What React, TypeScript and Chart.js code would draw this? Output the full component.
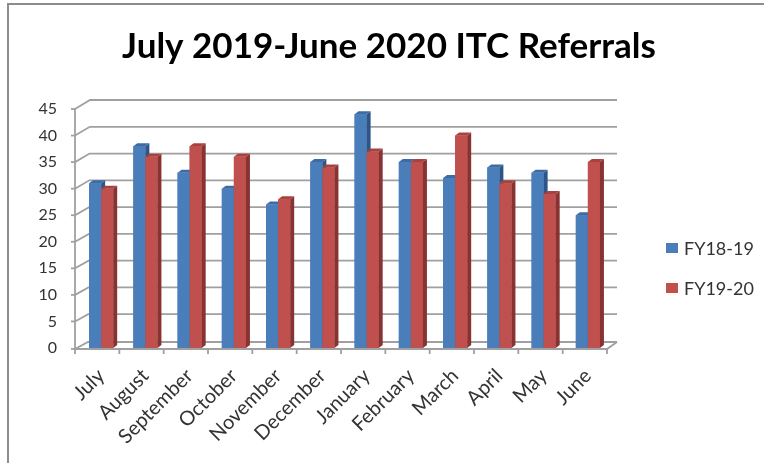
import React, { useEffect, useRef } from "react";
import { Chart, registerables } from "chart.js";

Chart.register(...registerables);

const categories = ["July", "August", "September", "October", "November", "December", "January", "February", "March", "April", "May", "June"];
const fy1819 = [31, 38, 33, 30, 27, 35, 44, 35, 32, 34, 33, 25];
const fy1920 = [30, 36, 38, 36, 28, 34, 37, 35, 40, 31, 29, 35];
const seriesNames = ["FY18-19", "FY19-20"];
const yTicks = [0, 5, 10, 15, 20, 25, 30, 35, 40, 45];
const titleText = "July 2019-June 2020 ITC Referrals";

const FONT = "Lato, 'Open Sans', sans-serif";
const faceColors = [
  { front: "#4A7EBB", top: "#3D6BA6", side: "#2E5588" },
  { front: "#C0504D", top: "#A8423F", side: "#883331" },
];
const GRID = "#A0A0A0";

const threeD = {
  id: "threeD",
  beforeDraw(chart: any) {
    const ctx = chart.ctx;
    ctx.save();
    ctx.fillStyle = "#ffffff";
    ctx.fillRect(0, 0, chart.width, chart.height);
    ctx.restore();
  },
  beforeDatasetsDraw(chart: any) {
    const { ctx, chartArea } = chart;
    const y = chart.scales.y;
    const fl = chartArea.left - 4;
    const fr = chartArea.right - 3;
    const br = chartArea.right + 7;
    const floorY = y.getPixelForValue(0) + 1;
    const maxV = yTicks[yTicks.length - 1];
    ctx.save();
    ctx.strokeStyle = GRID;
    ctx.lineWidth = 1.8;
    yTicks.forEach((v) => {
      const py = v === 0 ? floorY : y.getPixelForValue(v);
      const dx = 13 + (2 * v) / maxV;
      const dy = -(7 + (2 * v) / maxV);
      ctx.beginPath();
      ctx.moveTo(fl, py);
      ctx.lineTo(fl + dx, py + dy);
      ctx.lineTo(br, py + dy);
      ctx.stroke();
      ctx.beginPath();
      ctx.moveTo(fl - 4, py);
      ctx.lineTo(fl, py);
      ctx.stroke();
    });
    ctx.beginPath();
    ctx.moveTo(fl, y.getPixelForValue(maxV));
    ctx.lineTo(fl, floorY);
    ctx.stroke();
    ctx.beginPath();
    ctx.moveTo(fl, floorY);
    ctx.lineTo(fr, floorY);
    ctx.lineTo(br, floorY - 7);
    ctx.stroke();
    const n = categories.length;
    for (let k = 0; k <= n; k++) {
      const px = fl + ((fr - fl) * k) / n;
      ctx.beginPath();
      ctx.moveTo(px, floorY);
      ctx.lineTo(px, floorY + 5);
      ctx.stroke();
    }
    ctx.restore();
  },
  afterDatasetsDraw(chart: any) {
    const { ctx } = chart;
    const dx = 4;
    const dy = -3;
    ctx.save();
    [0, 1].forEach((di) => {
      const c = faceColors[di];
      chart.getDatasetMeta(di).data.forEach((bar: any) => {
        const { x, y, base, width } = bar.getProps(["x", "y", "base", "width"], true);
        const l = x - width / 2;
        const r = x + width / 2;
        ctx.fillStyle = c.front;
        ctx.fillRect(l, y, width, base - y);
        ctx.fillStyle = c.side;
        ctx.beginPath();
        ctx.moveTo(r, y);
        ctx.lineTo(r + dx, y + dy);
        ctx.lineTo(r + dx, base + dy);
        ctx.lineTo(r, base);
        ctx.closePath();
        ctx.fill();
        ctx.fillStyle = c.top;
        ctx.beginPath();
        ctx.moveTo(l, y);
        ctx.lineTo(l + dx, y + dy);
        ctx.lineTo(r + dx, y + dy);
        ctx.lineTo(r, y);
        ctx.closePath();
        ctx.fill();
      });
    });
    ctx.restore();
  },
  afterDraw(chart: any) {
    const { ctx, chartArea } = chart;
    ctx.save();
    ctx.strokeStyle = "#8C8C8C";
    ctx.lineWidth = 2;
    ctx.beginPath();
    ctx.moveTo(8, chart.height);
    ctx.lineTo(8, 4);
    ctx.lineTo(chart.width, 4);
    ctx.stroke();
    const lx = chartArea.right + 56;
    const ys = [248, 288];
    ctx.font = `18px ${FONT}`;
    ctx.textBaseline = "middle";
    ctx.textAlign = "left";
    seriesNames.forEach((name, i) => {
      ctx.fillStyle = faceColors[i].front;
      ctx.fillRect(lx, ys[i] - 5, 12, 10);
      ctx.fillStyle = "#333333";
      ctx.fillText(name, lx + 18, ys[i] + 1);
    });
    ctx.restore();
  },
};

export default function App() {
  const ref = useRef<HTMLCanvasElement | null>(null);
  useEffect(() => {
    document.body.style.margin = "0";
    const canvas = ref.current!;
    const chart = new Chart(canvas, {
      type: "bar",
      data: {
        labels: categories,
        datasets: [
          { label: seriesNames[0], data: fy1819, backgroundColor: faceColors[0].front, barPercentage: 1, categoryPercentage: 0.545 },
          { label: seriesNames[1], data: fy1920, backgroundColor: faceColors[1].front, barPercentage: 1, categoryPercentage: 0.545 },
        ],
      },
      options: {
        responsive: false,
        animation: false,
        layout: { padding: { left: 14, right: 0, top: 0, bottom: 0 } },
        plugins: {
          legend: { display: false },
          tooltip: { enabled: false },
          title: {
            display: true,
            text: titleText,
            color: "#000000",
            font: { family: FONT, weight: "bold", size: 35 },
            padding: { top: 26, bottom: 41 },
          },
        },
        scales: {
          x: {
            grid: { display: false, drawTicks: false },
            border: { display: false },
            ticks: {
              autoSkip: false,
              maxRotation: 45,
              minRotation: 45,
              color: "#333333",
              font: { family: FONT, size: 20 },
              padding: 16,
            },
            afterFit(scale: any) {
              scale.height = 115;
            },
          },
          y: {
            min: 0,
            max: 45,
            grid: { display: false, drawTicks: false },
            border: { display: false },
            ticks: {
              stepSize: 5,
              color: "#333333",
              font: { family: FONT, size: 16 },
              padding: 22,
            },
            afterFit(scale: any) {
              scale.width = 65;
            },
          },
          legendSpace: {
            type: "linear",
            position: "right",
            display: true,
            grid: { display: false, drawTicks: false },
            border: { display: false },
            ticks: { display: false },
            afterFit(scale: any) {
              scale.width = 154;
            },
          },
        },
      },
      plugins: [threeD],
    });
    return () => chart.destroy();
  }, []);
  return (
    <div style={{ position: "relative", width: 764, height: 463 }}>
      <canvas ref={ref} width={764} height={463} style={{ display: "block" }} />
    </div>
  );
}
